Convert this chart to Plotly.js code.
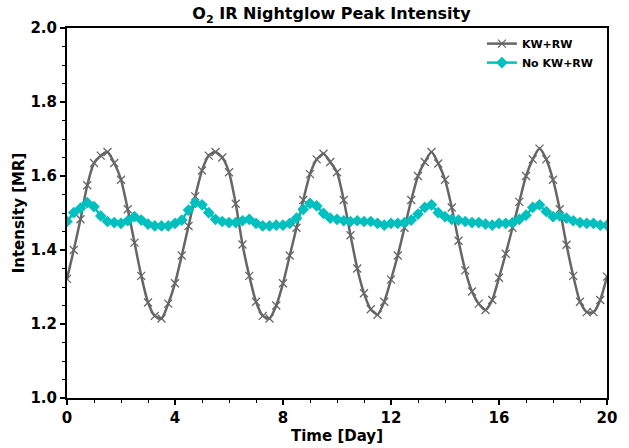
<!DOCTYPE html>
<html>
<head>
<meta charset="utf-8">
<script src="https://cdn.plot.ly/plotly-3.0.1.min.js"></script>
<style>html,body{margin:0;padding:0;background:#fff;}#chart{width:629px;height:448px;}</style>
</head>
<body>
<div id="chart"></div>
<script>
// Time in days, sampled every 0.25 day
var timeDays = [];
for (var i = 0; i <= 80; i++) { timeDays.push(i * 0.25); }

var kwrwIntensity = [
  1.322, 1.400, 1.483, 1.575, 1.635, 1.655, 1.665, 1.635, 1.590, 1.510, 1.420, 1.330, 1.258, 1.222, 1.215, 1.255,
  1.310, 1.385, 1.465, 1.545, 1.615, 1.655, 1.665, 1.650, 1.610, 1.525, 1.415, 1.330, 1.260, 1.222, 1.215, 1.250,
  1.310, 1.385, 1.460, 1.535, 1.605, 1.645, 1.660, 1.638, 1.610, 1.535, 1.440, 1.350, 1.283, 1.240, 1.225, 1.260,
  1.320, 1.385, 1.460, 1.535, 1.600, 1.638, 1.665, 1.634, 1.590, 1.515, 1.425, 1.345, 1.288, 1.255, 1.238, 1.265,
  1.325, 1.390, 1.460, 1.530, 1.600, 1.645, 1.674, 1.645, 1.590, 1.510, 1.414, 1.330, 1.260, 1.232, 1.232, 1.265,
  1.328
];

var noKwrwIntensity = [
  1.477, 1.501, 1.513, 1.528, 1.517, 1.492, 1.477, 1.474, 1.472, 1.479, 1.490, 1.481, 1.470, 1.465, 1.465, 1.465,
  1.472, 1.481, 1.508, 1.528, 1.522, 1.501, 1.483, 1.477, 1.474, 1.474, 1.479, 1.483, 1.472, 1.465, 1.465, 1.467,
  1.467, 1.472, 1.486, 1.510, 1.526, 1.519, 1.499, 1.486, 1.483, 1.479, 1.477, 1.479, 1.477, 1.477, 1.472, 1.467,
  1.472, 1.472, 1.474, 1.481, 1.497, 1.515, 1.522, 1.501, 1.490, 1.483, 1.481, 1.477, 1.474, 1.474, 1.470, 1.467,
  1.472, 1.472, 1.474, 1.483, 1.494, 1.515, 1.522, 1.504, 1.490, 1.492, 1.486, 1.479, 1.474, 1.472, 1.472, 1.467,
  1.467
];

var seriesNames = ["KW+RW", "No KW+RW"];
var xTickVals = [0, 4, 8, 12, 16, 20];
var yTickVals = [1.0, 1.2, 1.4, 1.6, 1.8, 2.0];
var yTickText = ["1.0", "1.2", "1.4", "1.6", "1.8", "2.0"];

var FONT = "DejaVu Sans, Liberation Sans, sans-serif";

var traces = [
  {
    x: timeDays, y: kwrwIntensity, name: seriesNames[0],
    type: "scatter", mode: "lines+markers",
    line: {color: "#666666", width: 2.5, shape: "spline", smoothing: 0.6},
    marker: {symbol: "x-thin", size: 8, color: "#666666", line: {color: "#666666", width: 1.3}}
  },
  {
    x: timeDays, y: noKwrwIntensity, name: seriesNames[1],
    type: "scatter", mode: "lines+markers",
    line: {color: "#00BFBF", width: 2.5},
    marker: {symbol: "diamond", size: 9, color: "#00BFBF"}
  }
];

var layout = {
  width: 629, height: 448,
  margin: {l: 67, r: 22, t: 28, b: 50, pad: 0},
  paper_bgcolor: "#ffffff", plot_bgcolor: "#ffffff",
  font: {family: FONT, color: "#000000", size: 14, weight: "bold"},
  title: {
    text: "O<sub>2</sub> IR Nightglow Peak Intensity",
    font: {family: FONT, size: 16, weight: "bold", color: "#000"},
    x: 0.527, xanchor: "center", y: 0.982, yanchor: "top"
  },
  showlegend: true,
  legend: {
    x: 0.985, xanchor: "right", y: 0.997, yanchor: "top",
    bgcolor: "rgba(255,255,255,0)", borderwidth: 0,
    font: {family: FONT, size: 11, weight: "bold", color: "#000"},
    tracegroupgap: 0, itemwidth: 30
  },
  xaxis: {
    range: [0, 20], tickvals: xTickVals, ticktext: xTickVals.map(String),
    showgrid: false, zeroline: false,
    showline: true, linecolor: "#000", linewidth: 2, mirror: true,
    ticks: "outside", ticklen: 5, tickwidth: 1.5, tickcolor: "#000",
    minor: {dtick: 1, ticks: "outside", ticklen: 3, tickwidth: 1, tickcolor: "#000", showgrid: false},
    tickfont: {family: FONT, size: 15, weight: "bold"},
    title: {text: "Time [Day]", font: {family: FONT, size: 15, weight: "bold"}, standoff: 0}
  },
  yaxis: {
    range: [1.0, 2.0], tickvals: yTickVals, ticktext: yTickText,
    showgrid: false, zeroline: false,
    showline: true, linecolor: "#000", linewidth: 2, mirror: true,
    ticks: "outside", ticklen: 5, tickwidth: 1.5, tickcolor: "#000",
    minor: {dtick: 0.05, ticks: "outside", ticklen: 3, tickwidth: 1, tickcolor: "#000", showgrid: false},
    tickfont: {family: FONT, size: 15, weight: "bold"},
    title: {text: "Intensity [MR]", font: {family: FONT, size: 15, weight: "bold"}, standoff: 2}
  }
};

Plotly.newPlot("chart", traces, layout, {displayModeBar: false, staticPlot: true});
</script>
</body>
</html>
